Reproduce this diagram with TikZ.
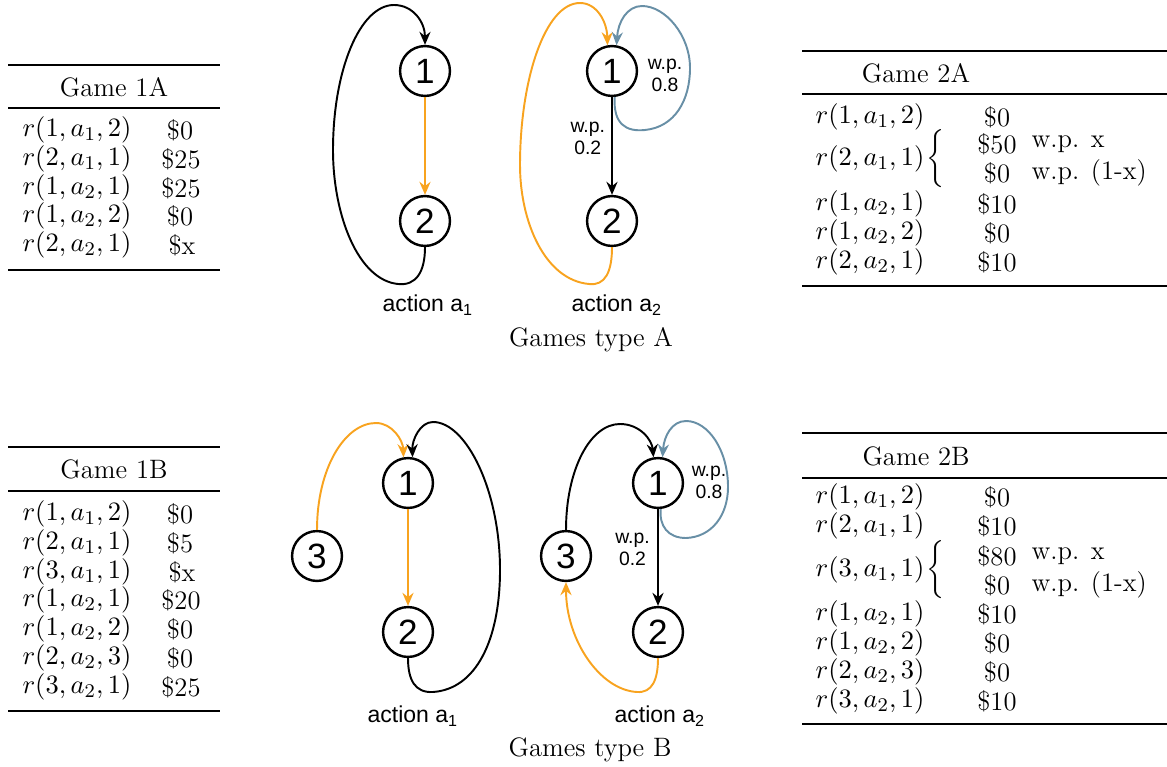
\documentclass[tikz,border=0pt]{standalone}
\usepackage{fontspec}
\newfontfamily\gsans{Liberation Sans}
\usetikzlibrary{arrows.meta}
\definecolor{orng}{RGB}{248,163,31}
\definecolor{bgray}{RGB}{104,143,166}
\begin{document}
\begin{tikzpicture}[x=0.413pt,y=-0.413pt,
  st/.style={circle,draw,line width=1pt,minimum size=20.6pt,inner sep=0pt,font=\gsans\fontsize{14.5}{16}\selectfont},
  edge/.style={line width=0.8pt,-{Stealth[length=5.4pt,width=4.6pt,inset=1.8pt]}},
  lbl/.style={font=\gsans\fontsize{8}{9}\selectfont,align=center,inner sep=0pt},
  act/.style={font=\gsans\fontsize{9.5}{11}\selectfont,inner sep=0pt},
  tx/.style={font=\fontsize{11}{13}\selectfont,inner sep=0pt},
  txl/.style={tx,anchor=west},
  trule/.style={line width=0.8pt},
  mrule/.style={line width=0.5pt}]
\useasboundingbox (0,0) rectangle (1167,766);

% ---------------- Table 1A
\draw[trule] (8,65) -- (220,65);
\node[tx] (t1a) at (114,87) {Game 1A};
\draw[mrule] (8,108) -- (220,108);
\node[tx] (a1) at (77,130) {$r(1,a_1,2)$}; \node[tx] (a1v) at (180,130) {\$0};
\node[tx] (a2) at (77,159) {$r(2,a_1,1)$}; \node[tx] (a2v) at (181,159) {\$25};
\node[tx] (a3) at (77,188) {$r(1,a_2,1)$}; \node[tx] (a3v) at (181,188) {\$25};
\node[tx] (a4) at (77,216) {$r(1,a_2,2)$}; \node[tx] (a4v) at (180,216) {\$0};
\node[tx] (a5) at (77,245) {$r(2,a_2,1)$}; \node[tx] (a5v) at (182,245) {\$x};
\draw[trule] (8,270) -- (220,270);

% ---------------- Table 1B
\draw[trule] (8,447) -- (220,447);
\node[tx] (t1b) at (114,469) {Game 1B};
\draw[mrule] (8,491) -- (220,491);
\node[tx] (b1) at (77,514) {$r(1,a_1,2)$}; \node[tx] (b1v) at (180,514) {\$0};
\node[tx] (b2) at (77,543) {$r(2,a_1,1)$}; \node[tx] (b2v) at (180,543) {\$5};
\node[tx] (b3) at (77,572) {$r(3,a_1,1)$}; \node[tx] (b3v) at (182,572) {\$x};
\node[tx] (b4) at (77,600) {$r(1,a_2,1)$}; \node[tx] (b4v) at (181,600) {\$20};
\node[tx] (b5) at (77,629) {$r(1,a_2,2)$}; \node[tx] (b5v) at (180,629) {\$0};
\node[tx] (b6) at (77,658) {$r(2,a_2,3)$}; \node[tx] (b6v) at (180,658) {\$0};
\node[tx] (b7) at (77,687) {$r(3,a_2,1)$}; \node[tx] (b7v) at (181,687) {\$25};
\draw[trule] (8,711) -- (220,711);

% ---------------- Table 2A
\draw[trule] (802,51) -- (1167,51);
\node[tx] (t2a) at (916,73) {Game 2A};
\draw[mrule] (802,94) -- (1167,94);
\node[tx] (c1) at (870,117) {$r(1,a_1,2)$}; \node[tx] (c1v) at (997,117) {\$0};
\node[tx] (c2) at (870,159) {$r(2,a_1,1)$};
\node[tx] (c2b) at (937,159) {$\left\{\vrule height 8pt depth 8pt width 0pt\right.$};
\node[tx] (c2v) at (997,144) {\$50}; \node[txl] (c2w) at (1031,144) {w.p. x};
\node[tx] (c2u) at (997,173) {\$0}; \node[txl] (c2x) at (1031,173) {w.p. (1-x)};
\node[tx] (c3) at (870,204) {$r(1,a_2,1)$}; \node[tx] (c3v) at (997,204) {\$10};
\node[tx] (c4) at (870,233) {$r(1,a_2,2)$}; \node[tx] (c4v) at (997,233) {\$0};
\node[tx] (c5) at (870,262) {$r(2,a_2,1)$}; \node[tx] (c5v) at (997,262) {\$10};
\draw[trule] (802,286) -- (1167,286);

% ---------------- Table 2B
\draw[trule] (802,433) -- (1167,433);
\node[tx] (t2b) at (916,456) {Game 2B};
\draw[mrule] (802,478) -- (1167,478);
\node[tx] (d1) at (870,497) {$r(1,a_1,2)$}; \node[tx] (d1v) at (997,497) {\$0};
\node[tx] (d2) at (870,526) {$r(2,a_1,1)$}; \node[tx] (d2v) at (997,526) {\$10};
\node[tx] (d3) at (870,570) {$r(3,a_1,1)$};
\node[tx] (d3b) at (937,570) {$\left\{\vrule height 8pt depth 8pt width 0pt\right.$};
\node[tx] (d3v) at (997,556) {\$80}; \node[txl] (d3w) at (1031,556) {w.p. x};
\node[tx] (d3u) at (997,585) {\$0}; \node[txl] (d3x) at (1031,585) {w.p. (1-x)};
\node[tx] (d4) at (870,614) {$r(1,a_2,1)$}; \node[tx] (d4v) at (997,614) {\$10};
\node[tx] (d5) at (870,643) {$r(1,a_2,2)$}; \node[tx] (d5v) at (997,643) {\$0};
\node[tx] (d6) at (870,672) {$r(2,a_2,3)$}; \node[tx] (d6v) at (997,672) {\$0};
\node[tx] (d7) at (870,701) {$r(3,a_2,1)$}; \node[tx] (d7v) at (997,701) {\$10};
\draw[trule] (802,724) -- (1167,724);

% ---------------- Games type A
\node[st] (L1) at (425,71) {1};
\node[st] (L2) at (425,221) {2};
\node[st] (R1) at (612,71) {1};
\node[st] (R2) at (612,221) {2};

\draw[edge,orng] (L1) -- (L2);
\draw[edge] (L2.south) .. controls (425,272) and (416,286) .. (398,284)
  .. controls (358,280) and (333,215) .. (333,150)
  .. controls (333,70) and (360,5) .. (394,5)
  .. controls (413,5) and (425,22) .. (L1.north);

\draw[edge] (R1) -- node[lbl,left=2.5pt,pos=0.42] (lab02a) {w.p.\\0.2} (R2);
\draw[edge,orng] (R2.south) .. controls (612,272) and (605,286) .. (589,284)
  .. controls (545,280) and (520,222) .. (520,165)
  .. controls (520,80) and (545,3) .. (580,3)
  .. controls (597,3) and (607,22) .. (R1.100);
\draw[edge,bgray] (R1.-84) .. controls (613,124) and (626,132) .. (645,130)
  .. controls (675,127) and (690,100) .. (690,68)
  .. controls (690,35) and (665,6) .. (642,6)
  .. controls (627,6) and (618,22) .. (R1.80);
\node[lbl] (lab08a) at (665,75) {w.p.\\0.8};

\node[act] (actA1) at (428,305) {action a\textsubscript{1}};
\node[act] (actA2) at (617,305) {action a\textsubscript{2}};
\node[tx] (capA) at (591,340) {Games type A};

% ---------------- Games type B
\node[st] (P1) at (408,483) {1};
\node[st] (P2) at (408,632) {2};
\node[st] (P3) at (317,556) {3};
\node[st] (Q1) at (658,483) {1};
\node[st] (Q2) at (658,632) {2};
\node[st] (Q3) at (566,556) {3};

\draw[edge,orng] (P1) -- (P2);
\draw[edge,orng] (P3.north) .. controls (317,468) and (345,423) .. (376,423)
  .. controls (392,423) and (403,440) .. (P1.100);
\draw[edge] (P2.south) .. controls (408,680) and (415,693) .. (433,692)
  .. controls (476,689) and (500,640) .. (500,570)
  .. controls (500,490) and (466,422) .. (433,422)
  .. controls (420,422) and (412,440) .. (P1.80);

\draw[edge] (Q1) -- node[lbl,left=3pt,pos=0.42] (lab02b) {w.p.\\0.2} (Q2);
\draw[edge] (Q3.north) .. controls (566,470) and (590,424) .. (620,424)
  .. controls (640,424) and (652,440) .. (Q1.100);
\draw[edge,bgray] (Q1.-84) .. controls (659,526) and (668,538) .. (686,538)
  .. controls (712,537) and (728,515) .. (728,487)
  .. controls (728,450) and (708,421) .. (686,421)
  .. controls (672,421) and (664,436) .. (Q1.80);
\node[lbl] (lab08b) at (709,482) {w.p.\\0.8};
\draw[edge,orng] (Q2.south) .. controls (658,680) and (652,693) .. (637,692)
  .. controls (600,690) and (566,640) .. (Q3.south);

\node[act] (actB1) at (413,716) {action a\textsubscript{1}};
\node[act] (actB2) at (660,716) {action a\textsubscript{2}};
\node[tx] (capB) at (590,750) {Games type B};
\end{tikzpicture}
\end{document}
